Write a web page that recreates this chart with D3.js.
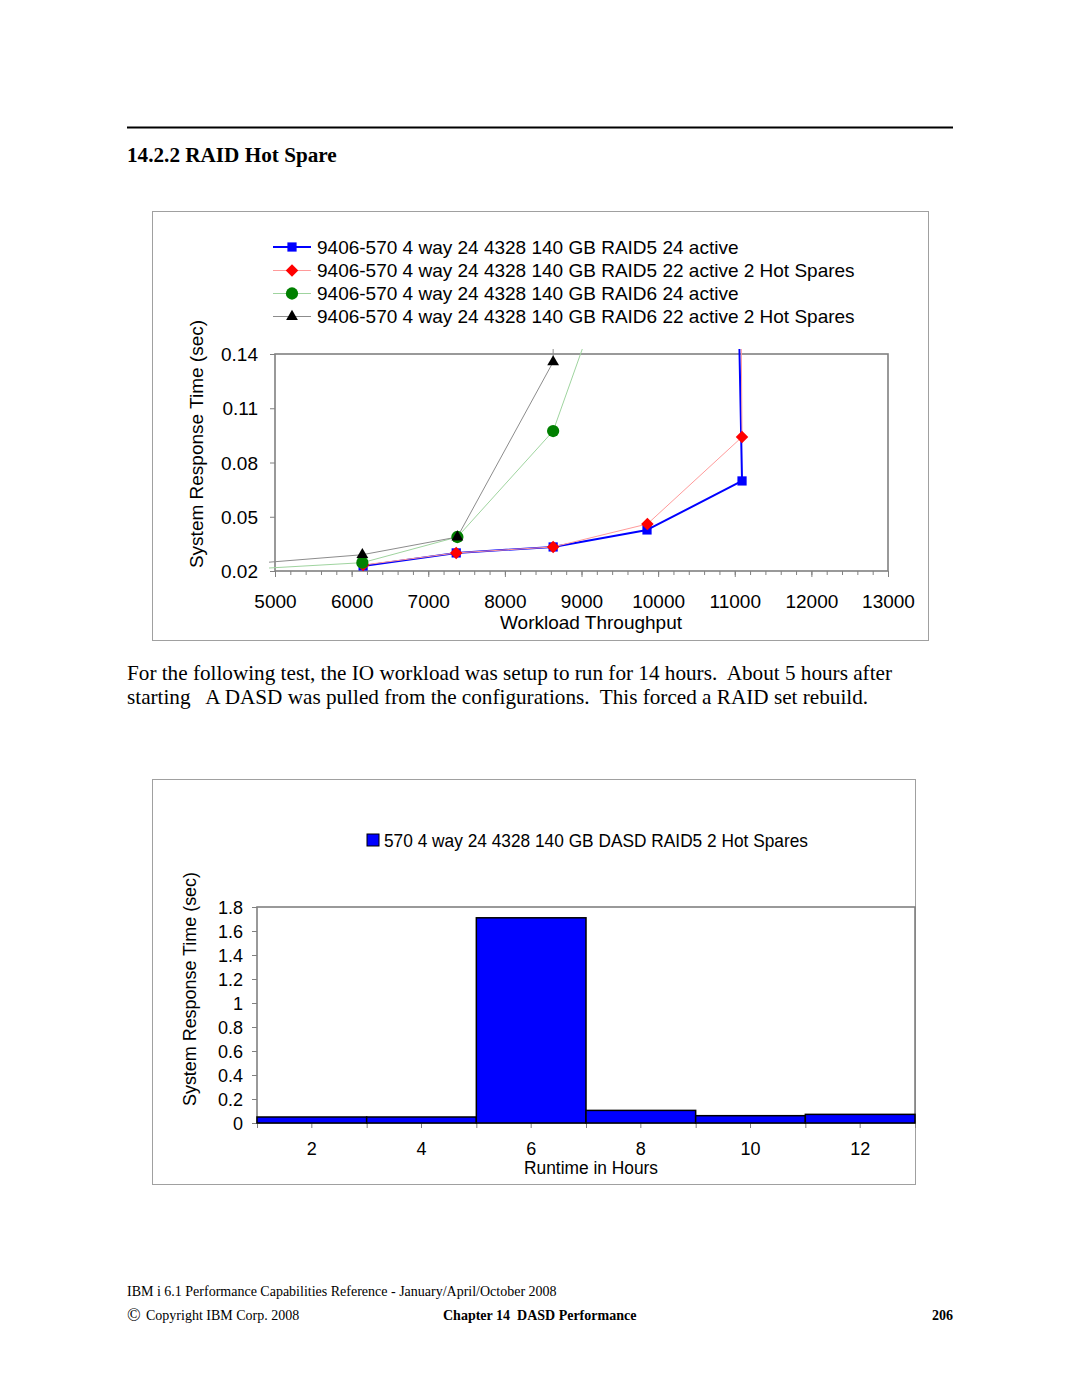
<!DOCTYPE html>
<html><head><meta charset="utf-8">
<script src="https://cdn.jsdelivr.net/npm/d3@7"></script>
<style>body{margin:0;background:#fff}svg{display:block}</style>
</head><body>
<svg id="c" width="1080" height="1397"></svg>
<script>
// ---------- DATA ----------
const throughputTicks = [5000,6000,7000,8000,9000,10000,11000,12000,13000];
const responseTicks = [0.02,0.05,0.08,0.11,0.14];
const seriesNames = [
  "9406-570 4 way 24 4328 140 GB RAID5 24 active",
  "9406-570 4 way 24 4328 140 GB RAID5 22 active 2 Hot Spares",
  "9406-570 4 way 24 4328 140 GB RAID6 24 active",
  "9406-570 4 way 24 4328 140 GB RAID6 22 active 2 Hot Spares"
];
// points outside the axis range are kept (the chart draws the lines off to the edge)
const raid5ActiveX   = [6150, 7365, 8630, 9855, 11095, 11035];
const raid5ActiveY   = [0.0228, 0.030, 0.0333, 0.0427, 0.0698, 0.20];
const raid5SpareX    = [6150, 7365, 8630, 9860, 11095, 11075];
const raid5SpareY    = [0.0233, 0.030, 0.0333, 0.046, 0.0941, 0.20];
const raid6ActiveX   = [4900, 6140, 7380, 8630, 9490];
const raid6ActiveY   = [0.0216, 0.0246, 0.0388, 0.0974, 0.20];
const raid6SpareX    = [4900, 6140, 7380, 8630, 8630];
const raid6SpareY    = [0.0248, 0.029, 0.0388, 0.1356, 0.20];

const hourLabels = ["2","4","6","8","10","12"];
const hourResponse = [0.05, 0.05, 1.71, 0.105, 0.061, 0.072];
const hourTicks = [0,0.2,0.4,0.6,0.8,1,1.2,1.4,1.6,1.8];
const barLegend = "570 4 way 24 4328 140 GB DASD RAID5 2 Hot Spares";

// ---------- PAGE ----------
const svg = d3.select("#c");
const serif = "'Liberation Serif','Times New Roman',serif";
const sans = "'Liberation Sans',Arial,sans-serif";
const narrow = "'Liberation Sans Narrow','Liberation Sans',Arial,sans-serif";

svg.append("line").attr("x1",127).attr("x2",953).attr("y1",127.5).attr("y2",127.5)
  .attr("stroke","#000").attr("stroke-width",2);
svg.append("text").attr("x",127).attr("y",162).attr("font-family",serif)
  .attr("font-weight","bold").attr("font-size",21.2).text("14.2.2 RAID Hot Spare");

const para = svg.append("text").attr("font-family",serif).attr("font-size",21.2)
  .attr("xml:space","preserve").style("white-space","pre");
para.append("tspan").attr("x",127).attr("y",680)
  .text("For the following test, the IO workload was setup to run for 14 hours.  About 5 hours after");
para.append("tspan").attr("x",127).attr("y",704)
  .text("starting   A DASD was pulled from the configurations.  This forced a RAID set rebuild.");

// footer
svg.append("text").attr("x",127).attr("y",1296).attr("font-family",serif).attr("font-size",14)
  .text("IBM i 6.1 Performance Capabilities Reference - January/April/October 2008");
svg.append("text").attr("x",127).attr("y",1321).attr("font-family",serif).attr("font-size",18).text("©");
svg.append("text").attr("x",146).attr("y",1320).attr("font-family",serif).attr("font-size",14)
  .text("Copyright IBM Corp. 2008");
svg.append("text").attr("x",443).attr("y",1320).attr("font-family",serif).attr("font-size",14)
  .attr("font-weight","bold").style("white-space","pre").text("Chapter 14  DASD Performance");
svg.append("text").attr("x",953).attr("y",1320).attr("text-anchor","end").attr("font-family",serif)
  .attr("font-size",14).attr("font-weight","bold").text("206");

// ---------- CHART 1 ----------
svg.append("rect").attr("x",152.5).attr("y",211.5).attr("width",776).attr("height",429)
  .attr("fill","none").attr("stroke","#a0a0a0").attr("stroke-width",1);

const P = {l:275, r:888, t:354, b:571};
const x = d3.scaleLinear().domain([5000,13000]).range([P.l,P.r]);
const y = d3.scaleLinear().domain([0.02,0.14]).range([P.b,P.t]);

const g1 = svg.append("g").attr("font-family",sans);

const yAx = g1.append("g").attr("transform",`translate(${P.l},0)`)
  .call(d3.axisLeft(y).tickValues(responseTicks).tickSize(5).tickPadding(12).tickFormat(d3.format(".2f")));
const xMinor = g1.append("g").attr("transform",`translate(0,${P.b})`)
  .call(d3.axisBottom(x).tickValues(d3.range(5000,13001,200)).tickSize(4).tickFormat(""));
const xAx = g1.append("g").attr("transform",`translate(0,${P.b})`)
  .call(d3.axisBottom(x).tickValues(throughputTicks).tickSize(6).tickFormat(d3.format("d")));
[yAx,xMinor,xAx].forEach(a=>{
  a.select(".domain").remove();
  a.selectAll("line").attr("stroke","#808080");
  a.selectAll("text").attr("font-family",sans).attr("font-size",19).attr("fill","#000");
});
xAx.selectAll("text").attr("y",30).attr("dy","0.35em");
yAx.selectAll("text").attr("dy","0.35em");

g1.append("rect").attr("x",P.l).attr("y",P.t).attr("width",P.r-P.l).attr("height",P.b-P.t)
  .attr("fill","none").attr("stroke","#808080").attr("stroke-width",1.6);

g1.append("text").attr("x",591).attr("y",622).attr("dy","0.35em").attr("text-anchor","middle")
  .attr("font-size",19).text("Workload Throughput");
g1.append("text").attr("transform","translate(196,444) rotate(-90)").attr("dy","0.35em")
  .attr("text-anchor","middle").attr("font-size",19).text("System Response Time (sec)");

const series = [
  {xs:raid5ActiveX, ys:raid5ActiveY, line:"#0000ff", lw:2,   fill:"#0000ff", sym:"square"},
  {xs:raid5SpareX,  ys:raid5SpareY,  line:"#ff9a9a", lw:1,   fill:"#ff0000", sym:"diamond"},
  {xs:raid6ActiveX, ys:raid6ActiveY, line:"#9fd49f", lw:1,   fill:"#008000", sym:"circle"},
  {xs:raid6SpareX,  ys:raid6SpareY,  line:"#8c8c8c", lw:1,   fill:"#000000", sym:"triangle"}
];
function symPath(s){
  if(s==="square") return d3.symbol(d3.symbolSquare,85)();
  if(s==="diamond") return d3.symbol(d3.symbolSquare,78)();
  if(s==="circle") return d3.symbol(d3.symbolCircle,118)();
  return d3.symbol(d3.symbolTriangle,60)();
}
function symRot(s){ return s==="diamond" ? " rotate(45)" : ""; }

svg.append("defs").append("clipPath").attr("id","clip1").append("rect")
  .attr("x",P.l-6).attr("y",P.t-5).attr("width",P.r-P.l+12).attr("height",P.b-P.t+10);

const lineGen = d3.line();
const lines = g1.append("g").attr("clip-path","url(#clip1)");
series.forEach(s=>{
  const pts = s.xs.map((v,i)=>[x(v), y(s.ys[i])]);
  lines.append("path").attr("d",lineGen(pts)).attr("fill","none")
    .attr("stroke",s.line).attr("stroke-width",s.lw).attr("stroke-linejoin","round");
});
series.forEach(s=>{
  s.xs.forEach((v,i)=>{
    const yy = s.ys[i];
    if(v<5000||v>13000||yy<0.02||yy>0.14) return;
    g1.append("path").attr("d",symPath(s.sym))
      .attr("transform",`translate(${x(v)},${y(yy)})${symRot(s.sym)}`)
      .attr("fill",s.fill);
  });
});

// legend
const legY = [247, 270.5, 293.5, 316.5];
series.forEach((s,i)=>{
  const lg = g1.append("g").attr("transform",`translate(0,${legY[i]})`);
  lg.append("line").attr("x1",273).attr("x2",311).attr("stroke",s.line).attr("stroke-width",s.lw);
  lg.append("path").attr("d",symPath(s.sym)).attr("transform",`translate(292,0)${symRot(s.sym)}`)
    .attr("fill",s.fill);
  lg.append("text").attr("x",317).attr("dy","0.35em").attr("font-size",19).text(seriesNames[i]);
});

// ---------- CHART 2 ----------
svg.append("rect").attr("x",152.5).attr("y",779.5).attr("width",763).attr("height",405)
  .attr("fill","none").attr("stroke","#a0a0a0").attr("stroke-width",1);

const Q = {l:257, r:915, t:907, b:1123};
const xb = d3.scaleBand().domain(hourLabels).range([Q.l,Q.r]).padding(0);
const yb = d3.scaleLinear().domain([0,1.8]).range([Q.b,Q.t]);
const xEdge = d3.scaleLinear().domain([0,hourLabels.length]).range([Q.l,Q.r]);

const g2 = svg.append("g").attr("font-family",narrow);

const yAx2 = g2.append("g").attr("transform",`translate(${Q.l},0)`)
  .call(d3.axisLeft(yb).tickValues(hourTicks).tickSize(5).tickPadding(9).tickFormat(d=>String(+d.toFixed(1))));
const xEdges = g2.append("g").attr("transform",`translate(0,${Q.b})`)
  .call(d3.axisBottom(xEdge).tickValues(d3.range(0,hourLabels.length+1)).tickSize(5).tickFormat(""));
const xAx2 = g2.append("g").attr("transform",`translate(0,${Q.b})`)
  .call(d3.axisBottom(xb).tickSize(5));
[yAx2,xEdges,xAx2].forEach(a=>{
  a.select(".domain").remove();
  a.selectAll("line").attr("stroke","#808080");
  a.selectAll("text").attr("font-family",narrow).attr("font-size",18).attr("fill","#000");
});
xAx2.selectAll("text").attr("y",26).attr("dy","0.35em");
yAx2.selectAll("text").attr("dy","0.35em");

g2.append("rect").attr("x",Q.l).attr("y",Q.t).attr("width",Q.r-Q.l).attr("height",Q.b-Q.t)
  .attr("fill","none").attr("stroke","#808080").attr("stroke-width",1.6);

g2.selectAll("rect.bar").data(hourResponse).join("rect").attr("class","bar")
  .attr("x",(d,i)=>xb(hourLabels[i])).attr("width",xb.bandwidth())
  .attr("y",d=>yb(d)).attr("height",d=>yb(0)-yb(d))
  .attr("fill","#0000ff").attr("stroke","#000").attr("stroke-width",1.5);

g2.append("text").attr("x",591).attr("y",1168).attr("dy","0.35em").attr("text-anchor","middle")
  .attr("font-size",18).attr("textLength",134).attr("lengthAdjust","spacingAndGlyphs").text("Runtime in Hours");
g2.append("text").attr("transform","translate(189,989) rotate(-90)").attr("dy","0.35em")
  .attr("text-anchor","middle").attr("font-size",19).attr("textLength",234)
  .attr("lengthAdjust","spacingAndGlyphs").text("System Response Time (sec)");

g2.append("rect").attr("x",367).attr("y",834).attr("width",12).attr("height",12)
  .attr("fill","#0000ff").attr("stroke","#000").attr("stroke-width",1);
g2.append("text").attr("x",384).attr("y",840).attr("dy","0.35em").attr("font-size",19)
  .attr("textLength",424).attr("lengthAdjust","spacingAndGlyphs").text(barLegend);
</script>
</body></html>
